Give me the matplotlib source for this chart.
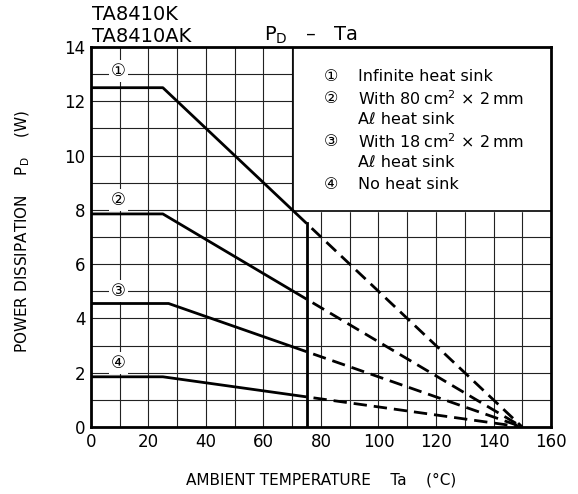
import numpy as np
import matplotlib.pyplot as plt

# derating curves: flat part, knee, solid to 75 C, dashed to 150 C
labels = ['\u2460', '\u2461', '\u2462', '\u2463']
p_max = [12.5, 7.85, 4.55, 1.85]
knee = [25, 25, 27, 25]
t_solid_end = 75
t_zero = 150
label_y = [13.1, 8.35, 5.0, 2.35]

legend_lines = [
    ('\u2460', 'Infinite heat sink'),
    ('\u2461', 'With 80\u2009cm$^2$ \u00d7 2\u2009mm'),
    ('', 'A\u2113 heat sink'),
    ('\u2462', 'With 18\u2009cm$^2$ \u00d7 2\u2009mm'),
    ('', 'A\u2113 heat sink'),
    ('\u2463', 'No heat sink'),
]

plt.rcParams['font.family'] = ['DejaVu Sans', 'Noto Sans CJK JP']

fig = plt.figure(figsize=(5.78, 4.94), dpi=100)
ax = fig.add_axes([0.1574, 0.1356, 0.7959, 0.7693])

ax.set_xlim(0, 160)
ax.set_ylim(0, 14)
ax.set_xticks(np.arange(0, 161, 10), minor=True)
ax.set_xticks(np.arange(0, 161, 20))
ax.set_yticks(np.arange(0, 15, 1), minor=True)
ax.set_yticks(np.arange(0, 15, 2))
ax.grid(True, which='both', color='#222222', lw=0.8, zorder=1)
ax.tick_params(which='both', length=0, labelsize=12, pad=4)
for s in ax.spines.values():
    s.set_linewidth(2)
    s.set_zorder(6)

for i in range(4):
    p = p_max[i]
    k = knee[i]
    slope = p / (t_zero - k)
    p75 = p - slope * (t_solid_end - k)
    ax.plot([0, k, t_solid_end], [p, p, p75], color='black', lw=2, zorder=4,
            solid_capstyle='butt')
    ax.plot([t_solid_end, t_zero], [p75, 0], color='black', lw=2, zorder=4,
            linestyle=(4.8, (4.8, 2.5)))
    ax.text(9.5, label_y[i], labels[i], fontsize=12, ha='center', va='center',
            zorder=5, bbox=dict(facecolor='white', edgecolor='none', pad=1.5))

# vertical limit at 75 C
p1_75 = p_max[0] - p_max[0] / (t_zero - knee[0]) * (t_solid_end - knee[0])
ax.plot([t_solid_end, t_solid_end], [0, p1_75], color='black', lw=2, zorder=4)

# legend box
ax.fill_between([70.3, 160], 7.95, 14, color='white', zorder=3)
ax.plot([70.3, 70.3, 160], [14, 7.95, 7.95], color='black', lw=1.2, zorder=3.5)
y0 = 12.9
for j, (num, txt) in enumerate(legend_lines):
    yy = y0 - j * 0.79
    if num:
        ax.text(83.5, yy, num, fontsize=11.5, ha='center', va='center', zorder=5)
    ax.text(93, yy, txt, fontsize=11.5, ha='left', va='center', zorder=5)

fig.text(92 / 578, 1 - 20 / 494, 'TA8410K', fontsize=14, ha='left', va='baseline')
fig.text(92 / 578, 1 - 42 / 494, 'TA8410AK', fontsize=14, ha='left', va='baseline')
fig.text(264 / 578, 1 - 41 / 494, 'P$_\\mathregular{D}$   \u2013   Ta', fontsize=14,
         ha='left', va='baseline')

fig.text(23 / 578, 1 - 232 / 494,
         'POWER DISSIPATION    P$_\\mathregular{D}$    (W)',
         fontsize=11, rotation=90, ha='center', va='center')
ax.set_xlabel('AMBIENT TEMPERATURE    Ta    (\u00b0C)', fontsize=11, labelpad=16)

fig.savefig('out.png', dpi=100)
